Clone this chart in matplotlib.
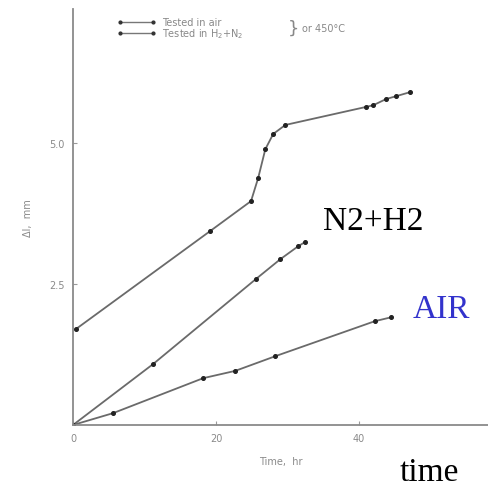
import matplotlib
matplotlib.use("Agg")
import matplotlib.pyplot as plt

# Elongation vs. time at 450 °C
upper_t = [0.4, 19.2, 24.9, 25.9, 26.9, 28.0, 29.7, 41.0, 42.0, 43.8, 45.2, 47.1]
upper_dl = [1.70, 3.44, 3.97, 4.38, 4.89, 5.16, 5.32, 5.64, 5.67, 5.78, 5.83, 5.90]

n2h2_t = [0.0, 11.2, 25.6, 29.0, 31.5, 32.4]
n2h2_dl = [0.0, 1.08, 2.59, 2.94, 3.17, 3.24]

air_t = [0.0, 5.6, 18.2, 22.7, 28.3, 42.2, 44.5]
air_dl = [0.0, 0.21, 0.83, 0.96, 1.22, 1.84, 1.91]

x_ticks = [0, 20, 40]
y_ticks = [2.5, 5.0]
y_tick_labels = ["2.5", "5.0"]

W, H = 488, 489
fig = plt.figure(figsize=(W / 100, H / 100), dpi=100)
fig.patch.set_facecolor("white")

x0_px, y0_px = 73, 426
px_per_t = 7.15
px_per_mm = 56.4
x_max = (W - x0_px) / px_per_t
y_max = (y0_px - 10) / px_per_mm
ax_w = x_max * px_per_t
ax_h = y_max * px_per_mm
ax = fig.add_axes([x0_px / W, 1 - y0_px / H, ax_w / W, ax_h / H])
ax.set_xlim(0, x_max)
ax.set_ylim(0, y_max)

line_col = "#6a6a6a"
kw = dict(color=line_col, lw=1.3, marker="o", ms=2.6, mfc="#222222", mec="#222222")
ax.plot(upper_t, upper_dl, **kw)
ax.plot(n2h2_t, n2h2_dl, **kw)
ax.plot(air_t, air_dl, **kw)

for s in ["top", "right"]:
    ax.spines[s].set_visible(False)
for s in ["left", "bottom"]:
    ax.spines[s].set_color("#8a8a8a")
    ax.spines[s].set_linewidth(1.3)

ax.set_xticks(x_ticks)
ax.set_xticklabels([str(v) for v in x_ticks])
ax.set_yticks(y_ticks)
ax.set_yticklabels(y_tick_labels)
ax.tick_params(direction="in", length=3, width=0.8, colors="#9a9a9a",
               labelsize=7, labelcolor="#8a8a8a", pad=6)

ax.set_xlabel("Time,  hr", fontsize=7, color="#8a8a8a", labelpad=9)
ax.set_ylabel("Δl,  mm", fontsize=7, color="#8a8a8a", labelpad=12)

# legend drawn by hand
lx0, lx1 = 120 / W, 153 / W
for yy, lab in [(23, "Tested in air"), (34, "Tested in H$_2$+N$_2$")]:
    fy = 1 - yy / H
    fig.add_artist(plt.Line2D([lx0, lx1], [fy, fy], color="#777777", lw=1.0,
                              marker="o", ms=2, mfc="#333333", mec="#333333",
                              markevery=[0, 1]))
    fig.text(162 / W, fy, lab, fontsize=7, color="#888888", va="center")
fig.text(288 / W, 1 - 29 / H, "}", fontsize=13, color="#888888", va="center")
fig.text(302 / W, 1 - 29 / H, "or 450°C", fontsize=7, color="#888888", va="center")

# annotations
serif = "Liberation Serif"
fig.text(323 / W, 1 - 230 / H, "N2+H2", fontsize=24, family=serif, color="black",
         va="baseline")
fig.text(413 / W, 1 - 318 / H, "AIR", fontsize=24, family=serif, color="#3333cc",
         va="baseline")
fig.text(400 / W, 1 - 481 / H, "time", fontsize=24, family=serif, color="black",
         va="baseline")

fig.savefig("out.png", dpi=100)
